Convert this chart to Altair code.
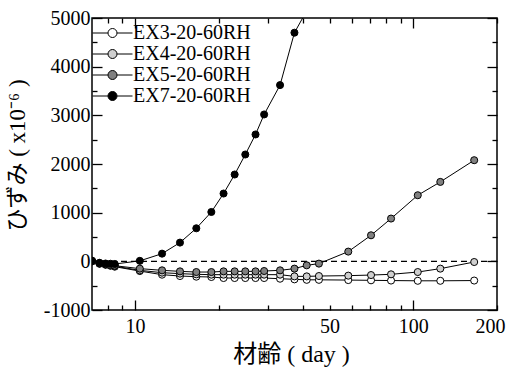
import altair as alt
import pandas as pd

# ---- data ----
days = [7.0, 7.45, 7.83, 8.15, 8.45, 10.4, 12.5, 14.5, 16.6, 18.8, 20.8, 22.8, 24.9,
        27.1, 29.1, 33.2, 37.4, 41.4, 45.8, 58.4, 70.5, 83.2, 103.8, 125.1, 165.6]
series_names = ["EX3-20-60RH", "EX4-20-60RH", "EX5-20-60RH", "EX7-20-60RH"]
ex3 = [0, -50, -70, -90, -110, -200, -274, -302, -315, -322, -343, -343, -343,
       -343, -343, -357, -370, -380, -380, -385, -390, -395, -400, -400, -395]
ex4 = [0, -45, -65, -85, -100, -185, -233, -253, -267, -274, -274, -274, -274,
       -274, -274, -274, -309, -309, -302, -294, -282, -267, -220, -150, -14]
ex5 = [5, -40, -60, -75, -90, -150, -185, -206, -220, -220, -206, -206, -206,
       -206, -199, -185, -150, -82, -47, 200, 535, 879, 1358, 1632, 2078]
ex7 = [15, -30, -45, -50, -55, 10, 158, 385, 679, 1014, 1393, 1784, 2195,
       2607, 3018, 3621, 4698, 5150]
fills = ["#ffffff", "#cfcfcf", "#808080", "#000000"]

x_major = [10, 100]
x_minor = [8, 9, 20, 30, 40, 50, 60, 70, 80, 90, 200]
x_labels = [10, 50, 100, 200]
y_major = [-1000, 0, 1000, 2000, 3000, 4000, 5000]
y_minor = [-500, 500, 1500, 2500, 3500, 4500]

rows = []
for name, vals in zip(series_names, [ex3, ex4, ex5, ex7]):
    for d, v in zip(days, vals):
        rows.append({"day": d, "strain": v, "series": name})
df = pd.DataFrame(rows)

xs = alt.Scale(type="log", domain=[7, 200], nice=False)
ys = alt.Scale(domain=[-1000, 5000], nice=False, zero=False)

SERIF = "Liberation Serif"
TITLE_FONT = "Liberation Serif, Noto Sans CJK JP"


def tick_axis(orient, values, size):
    return alt.Axis(orient=orient, values=values, tickSize=size, offset=-size,
                    labels=False, domain=False, grid=False, title="",
                    tickColor="black", tickWidth=1.3)


base = alt.Chart(df)

# layer: lines + x label axis + y left major axis with labels and title
lines = base.mark_line(color="black", strokeWidth=1, clip=True).encode(
    x=alt.X("day:Q", scale=xs,
            axis=alt.Axis(orient="bottom", values=x_labels, ticks=False, tickSize=0,
                          domain=False, grid=False, labelPadding=6,
                          labelFlush=True, labelFlushOffset=8,
                          labelFont=SERIF, labelFontSize=20, labelColor="black",
                          title="材齢 ( day )", titleFont=TITLE_FONT, titleFontSize=24,
                          titleFontWeight="normal", titleColor="black",
                          titleX=199, titleY=44, titleBaseline="middle",
                          titleAlign="center")),
    y=alt.Y("strain:Q", scale=ys,
            axis=alt.Axis(orient="left", values=y_major, tickSize=10, offset=-10,
                          domain=False, grid=False, labelPadding=2,
                          labelFont=SERIF, labelFontSize=20, labelColor="black",
                          labelExpr="'' + datum.value",
                          tickColor="black", tickWidth=1.3,
                          title="ひずみ ( x10⁻⁶ )", titleFont=TITLE_FONT,
                          titleFontSize=23, titleFontWeight="normal",
                          titleColor="black", titleX=-85, titleY=137,
                          titleBaseline="middle", titleAlign="center")),
    detail="series:N",
)

zero = alt.Chart(pd.DataFrame({"v": [0]})).mark_rule(
    color="black", strokeWidth=1.3, strokeDash=[6, 4]
).encode(y=alt.Y("v:Q", scale=ys, axis=None))

points = base.mark_circle(size=50, stroke="black", strokeWidth=1, opacity=1,
                          clip=True).encode(
    x=alt.X("day:Q", scale=xs, axis=tick_axis("bottom", x_major, 10)),
    y=alt.Y("strain:Q", scale=ys, axis=tick_axis("left", y_minor, 5)),
    fill=alt.Fill("series:N",
                  scale=alt.Scale(domain=series_names, range=fills),
                  legend=alt.Legend(
                      orient="none", legendX=0, legendY=5, padding=0,
                      title=None, clipHeight=20, rowPadding=1, labelOffset=0,
                      symbolType="M-1,0L-0.225,0M0.225,0L1,0M0.225,0A0.225,0.225,0,1,1,-0.225,0A0.225,0.225,0,1,1,0.225,0Z",
                      symbolSize=1600, symbolStrokeColor="black",
                      symbolStrokeWidth=1, symbolOpacity=1,
                      labelFont=SERIF, labelFontSize=20, labelColor="black")),
)

dummy1 = base.mark_line(strokeOpacity=0).encode(
    x=alt.X("day:Q", scale=xs, axis=tick_axis("bottom", x_minor, 5)),
    y=alt.Y("strain:Q", scale=ys, axis=tick_axis("right", y_major, 10)),
    detail="series:N",
)
dummy2 = base.mark_line(strokeOpacity=0).encode(
    x=alt.X("day:Q", scale=xs, axis=tick_axis("top", x_major, 10)),
    y=alt.Y("strain:Q", scale=ys, axis=tick_axis("right", y_minor, 5)),
    detail="series:N",
)
dummy3 = base.mark_line(strokeOpacity=0).encode(
    x=alt.X("day:Q", scale=xs, axis=tick_axis("top", x_minor, 5)),
    y=alt.Y("strain:Q", scale=ys, axis=None),
    detail="series:N",
)

chart = alt.layer(zero, lines, points, dummy1, dummy2, dummy3).resolve_axis(
    x="independent", y="independent"
).properties(
    width=405, height=292,
    autosize=alt.AutoSizeParams(type="none"),
    padding={"left": 92, "top": 18, "right": 16, "bottom": 58},
    background="white",
).configure_view(stroke="black", strokeWidth=1.5)

chart.save("out.html", embed_options={"renderer": "svg", "actions": False})
